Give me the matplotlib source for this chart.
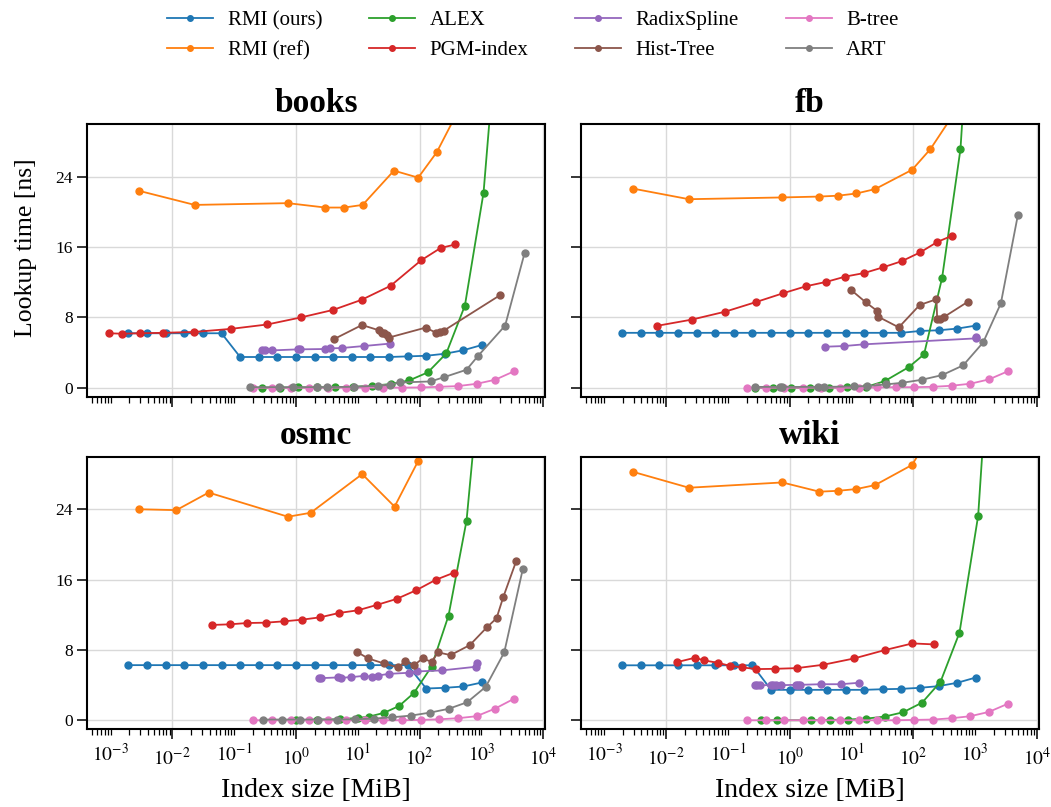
import numpy as np
import matplotlib
matplotlib.use("Agg")
import matplotlib.pyplot as plt
from matplotlib.ticker import FixedLocator, LogLocator, FuncFormatter

plt.rcParams["font.family"] = "serif"
plt.rcParams["font.serif"] = ["Liberation Serif", "DejaVu Serif"]
plt.rcParams["mathtext.fontset"] = "stix"

# index sizes shared by every dataset (MiB)
rmi_ours_x = [0.00195, 0.0039, 0.0078, 0.0156, 0.0313, 0.0625, 0.125, 0.25, 0.5, 1,
              2, 4, 8, 16, 32, 64, 128, 256, 512, 1024]
btree_x = [0.204, 0.41, 0.82, 1.63, 3.26, 6.5, 13, 26, 52, 104, 209, 417, 835, 1670, 3340]

# ---- books ----
books_rmi_ours_y = [6.2, 6.2, 6.2, 6.2, 6.2, 6.2, 3.5, 3.5, 3.5, 3.5,
                    3.5, 3.5, 3.5, 3.5, 3.5, 3.57, 3.64, 3.87, 4.27, 4.87]
books_rmi_ref_x = [0.0029, 0.023, 0.74, 3.0, 6.0, 12.0, 38.5, 95, 190, 380]
books_rmi_ref_y = [22.4, 20.8, 21.0, 20.5, 20.5, 20.8, 24.7, 23.9, 26.8, 30.9]
books_alex_x = [0.279, 0.551, 1.09, 2.16, 4.28, 8.45, 17.1, 34.0, 68.1, 136, 270, 541, 1084, 2173]
books_alex_y = [0, 0, 0.04, 0.04, 0.08, 0.11, 0.23, 0.42, 0.84, 1.75, 3.9, 9.35, 22.2, 48]
books_pgm_x = [0.00093, 0.00153, 0.0030, 0.0070, 0.0227, 0.089, 0.344, 1.2, 3.97, 11.5, 34, 106, 219, 377]
books_pgm_y = [6.2, 6.15, 6.2, 6.25, 6.35, 6.7, 7.2, 8.0, 8.85, 10.0, 11.6, 14.5, 15.9, 16.3]
books_rs_x = [0.279, 0.315, 0.405, 1.09, 1.16, 2.94, 3.55, 5.48, 12.6, 32.7]
books_rs_y = [4.25, 4.25, 4.25, 4.37, 4.37, 4.41, 4.48, 4.52, 4.75, 5.02]
books_ht_x = [4.06, 11.7, 22.2, 24.3, 26.5, 29.2, 31.5, 125, 184, 215, 247, 1970]
books_ht_y = [5.51, 7.14, 6.53, 6.23, 6.27, 6.04, 5.7, 6.84, 6.27, 6.34, 6.5, 10.5]
books_btree_y = [0, 0, 0, 0, 0, 0.02, 0.02, 0.02, 0.02, 0.04, 0.11, 0.19, 0.45, 0.91, 1.86]
books_art_x = [0.18, 0.537, 0.906, 2.21, 3.13, 8.57, 20.9, 33.1, 48, 151, 250, 575, 877, 2421, 4989]
books_art_y = [0.07, 0.07, 0.07, 0.07, 0.07, 0.11, 0.23, 0.34, 0.6, 0.72, 1.21, 2.05, 3.6, 7.07, 15.3]

# ---- fb ----
fb_rmi_ours_y = [6.25, 6.25, 6.25, 6.25, 6.25, 6.25, 6.25, 6.25, 6.25, 6.25,
                 6.25, 6.25, 6.25, 6.25, 6.25, 6.25, 6.46, 6.54, 6.73, 7.07]
fb_rmi_ref_x = [0.00294, 0.0234, 0.76, 3.02, 6.07, 12.0, 24.1, 95.7, 189, 565]
fb_rmi_ref_y = [22.65, 21.45, 21.65, 21.75, 21.85, 22.1, 22.6, 24.8, 27.15, 32.2]
fb_alex_x = [0.279, 0.537, 1.06, 2.11, 4.32, 8.47, 17.4, 34.5, 84.5, 149, 292, 579, 1148]
fb_alex_y = [0, 0, 0, 0, 0.02, 0.04, 0.1, 0.76, 2.35, 3.8, 12.5, 27.15, 60]
fb_pgm_x = [0.0072, 0.0259, 0.0897, 0.285, 0.78, 1.84, 3.93, 7.96, 16.0, 32.4, 65.0, 129, 246, 425]
fb_pgm_y = [7.05, 7.75, 8.65, 9.75, 10.75, 11.55, 12.05, 12.65, 13.05, 13.7, 14.4, 15.4, 16.6, 17.3]
fb_rs_x = [3.78, 7.67, 15.8, 1038, 1038]
fb_rs_y = [4.67, 4.75, 4.94, 5.62, 5.77]
fb_ht_x = [9.98, 17.0, 25.6, 26.9, 58.2, 127, 237, 243, 268, 319, 769]
fb_ht_y = [11.09, 9.72, 8.78, 8.09, 6.87, 9.42, 10.07, 7.79, 7.86, 8.09, 9.8]
fb_btree_y = [0, 0, 0, 0, 0, 0, 0, 0.04, 0.07, 0.07, 0.11, 0.23, 0.46, 0.95, 1.86]
fb_art_x = [0.279, 0.708, 0.741, 2.87, 3.55, 11.0, 18.1, 35.8, 66.7, 137, 292, 640, 1346, 2606, 4898]
fb_art_y = [0.1, 0.1, 0.1, 0.1, 0.1, 0.15, 0.19, 0.38, 0.57, 0.91, 1.44, 2.55, 5.15, 9.6, 19.6]

# ---- osmc ----
osmc_rmi_ours_y = [6.27, 6.27, 6.27, 6.27, 6.27, 6.27, 6.27, 6.27, 6.27, 6.27,
                   6.27, 6.27, 6.27, 6.27, 6.27, 6.27, 3.61, 3.69, 3.84, 4.3]
osmc_rmi_ref_x = [0.00292, 0.0116, 0.0387, 0.743, 1.73, 11.8, 39.4, 95.1, 190]
osmc_rmi_ref_y = [24.0, 23.9, 25.9, 23.15, 23.6, 28.0, 24.3, 29.5, 36.0]
osmc_alex_x = [1.02, 2.16, 5.14, 10.2, 15.3, 26.5, 46.8, 80.9, 156, 294, 575, 1072]
osmc_alex_y = [0, 0.08, 0.11, 0.27, 0.42, 0.84, 1.63, 3.1, 6.1, 11.9, 22.7, 43]
osmc_pgm_x = [0.0439, 0.0845, 0.163, 0.324, 0.631, 1.25, 2.47, 4.95, 10.1, 20.4, 42.5, 88.3, 182, 355]
osmc_pgm_y = [10.84, 10.91, 11.06, 11.1, 11.25, 11.44, 11.71, 12.2, 12.51, 13.12, 13.8, 14.79, 15.97, 16.77]
osmc_rs_x = [2.36, 2.51, 4.83, 5.27, 7.66, 12.6, 16.7, 21.4, 31.9, 67.1, 89.3, 230, 804, 834]
osmc_rs_y = [4.79, 4.79, 4.87, 4.83, 4.9, 5.05, 4.94, 5.09, 5.28, 5.4, 5.55, 5.67, 6.08, 6.46]
osmc_ht_x = [9.8, 14.8, 26.5, 44.6, 58.5, 81.8, 112, 156, 200, 317, 650, 1227, 1758, 2254, 3656]
osmc_ht_y = [7.75, 7.03, 6.46, 6.01, 6.69, 6.27, 7.03, 6.65, 7.72, 7.41, 8.55, 10.57, 11.6, 13.99, 18.1]
osmc_btree_y = [0, 0, 0, 0, 0, 0, 0, 0, 0, 0.04, 0.11, 0.23, 0.46, 1.33, 2.43]
osmc_art_x = [0.296, 0.589, 1.17, 2.29, 4.57, 9.12, 18.2, 36.3, 72.4, 148, 295, 589, 1175, 2344, 4677]
osmc_art_y = [0.08, 0.08, 0.08, 0.08, 0.08, 0.11, 0.19, 0.34, 0.53, 0.87, 1.3, 2.05, 3.8, 7.72, 17.2]

# ---- wiki ----
wiki_rmi_ours_y = [6.25, 6.25, 6.25, 6.25, 6.25, 6.25, 6.25, 6.25, 3.46, 3.46,
                   3.46, 3.46, 3.46, 3.46, 3.53, 3.57, 3.69, 3.88, 4.26, 4.86]
wiki_rmi_ref_x = [0.00294, 0.0234, 0.76, 3.02, 6.07, 12.0, 24.1, 95.7, 250]
wiki_rmi_ref_y = [28.25, 26.45, 27.05, 26.0, 26.1, 26.3, 26.75, 29.05, 34.0]
wiki_alex_x = [0.348, 0.631, 2.24, 4.45, 8.79, 17.4, 34.5, 68.4, 139, 275, 558, 1119, 1995]
wiki_alex_y = [0, 0, 0, 0.04, 0.08, 0.19, 0.42, 0.91, 2.01, 4.37, 9.96, 23.27, 50]
wiki_pgm_x = [0.0152, 0.0293, 0.041, 0.0682, 0.107, 0.171, 0.289, 0.571, 1.31, 3.47, 11.0, 34.5, 96.8, 214]
wiki_pgm_y = [6.62, 7.11, 6.81, 6.54, 6.2, 6.01, 5.82, 5.85, 5.93, 6.31, 7.03, 7.98, 8.74, 8.63]
wiki_rs_x = [0.271, 0.296, 0.327, 0.505, 0.537, 0.593, 0.733, 1.28, 1.36, 1.45, 3.26, 6.7, 13.1]
wiki_rs_y = [3.99, 3.99, 3.99, 3.99, 3.99, 3.99, 3.99, 4.03, 4.03, 4.03, 4.1, 4.1, 4.26]
wiki_btree_y = [0, 0, 0, 0, 0, 0, 0, 0, 0, 0.04, 0.08, 0.23, 0.46, 0.95, 1.86]

methods = ["RMI (ours)", "RMI (ref)", "ALEX", "PGM-index",
           "RadixSpline", "Hist-Tree", "B-tree", "ART"]

datasets = {
    "books": [(rmi_ours_x, books_rmi_ours_y), (books_rmi_ref_x, books_rmi_ref_y),
              (books_alex_x, books_alex_y), (books_pgm_x, books_pgm_y),
              (books_rs_x, books_rs_y), (books_ht_x, books_ht_y),
              (btree_x, books_btree_y), (books_art_x, books_art_y)],
    "fb": [(rmi_ours_x, fb_rmi_ours_y), (fb_rmi_ref_x, fb_rmi_ref_y),
           (fb_alex_x, fb_alex_y), (fb_pgm_x, fb_pgm_y),
           (fb_rs_x, fb_rs_y), (fb_ht_x, fb_ht_y),
           (btree_x, fb_btree_y), (fb_art_x, fb_art_y)],
    "osmc": [(rmi_ours_x, osmc_rmi_ours_y), (osmc_rmi_ref_x, osmc_rmi_ref_y),
             (osmc_alex_x, osmc_alex_y), (osmc_pgm_x, osmc_pgm_y),
             (osmc_rs_x, osmc_rs_y), (osmc_ht_x, osmc_ht_y),
             (btree_x, osmc_btree_y), (osmc_art_x, osmc_art_y)],
    "wiki": [(rmi_ours_x, wiki_rmi_ours_y), (wiki_rmi_ref_x, wiki_rmi_ref_y),
             (wiki_alex_x, wiki_alex_y), (wiki_pgm_x, wiki_pgm_y),
             (wiki_rs_x, wiki_rs_y), None,
             (btree_x, wiki_btree_y), None],
}

major_decades = [-2, 0, 2, 4]
minor_decades = [-3, -1, 1, 3]


def major_label(v, pos):
    return r"$10^{%d}$" % round(np.log10(v))


def minor_label(v, pos):
    e = np.log10(v)
    if abs(e - round(e)) < 1e-6 and round(e) in minor_decades:
        return r"$10^{%d}$" % round(e)
    return ""


fig, axes = plt.subplots(2, 2, figsize=(10.51, 8.07), dpi=100, sharex=True, sharey=True)
fig.subplots_adjust(left=0.083, right=0.9886, top=0.8463, bottom=0.0966,
                    wspace=0.078, hspace=0.22)

for ax, (name, series) in zip(axes.flat, datasets.items()):
    for i, (label, s) in enumerate(zip(methods, series)):
        if s is None:
            continue
        ax.plot(s[0], s[1], marker="o", ms=5, lw=1.3, color=f"C{i}", label=label)
    ax.set_xscale("log")
    ax.set_xlim(4.2e-4, 1.08e4)
    ax.set_ylim(-1, 30)
    ax.set_yticks([0, 8, 16, 24])
    ax.xaxis.set_major_locator(FixedLocator([10.0 ** e for e in major_decades]))
    ax.xaxis.set_minor_locator(LogLocator(base=10, subs=np.arange(1, 10), numticks=100))
    ax.xaxis.set_major_formatter(FuncFormatter(major_label))
    ax.xaxis.set_minor_formatter(FuncFormatter(minor_label))
    ax.tick_params(which="major", length=7, width=1.1, color="black")
    ax.tick_params(which="minor", length=4, width=0.9)
    ax.tick_params(axis="y", labelsize=12.5)
    ax.tick_params(axis="x", which="both", labelsize=14, pad=6)
    ax.grid(True, which="major", color="#d9d9d9", lw=1.0)
    ax.set_axisbelow(True)
    for sp in ax.spines.values():
        sp.set_linewidth(1.5)
        sp.set_color("black")
    ax.set_title(name, fontsize=24, fontweight="bold", pad=9)

for ax in axes[0]:
    ax.tick_params(axis="x", which="both", labelbottom=False)
for ax in axes[:, 1]:
    ax.tick_params(axis="y", which="both", labelleft=False)
for ax in axes[1]:
    ax.set_xlabel("Index size [MiB]", fontsize=20, labelpad=6)
axes[0, 0].set_ylabel("Lookup time [ns]", fontsize=18.5)
axes[0, 0].yaxis.set_label_coords(-0.109, 0.545)

handles, labels = axes[0, 0].get_legend_handles_labels()
fig.legend(handles, labels, loc="upper center", bbox_to_anchor=(0.507, 1.01), ncol=4,
           frameon=False, fontsize=15, handlelength=2.2, handletextpad=0.7,
           columnspacing=2.25, labelspacing=0.5, markerscale=0.8)

fig.savefig("out.png", dpi=100)
